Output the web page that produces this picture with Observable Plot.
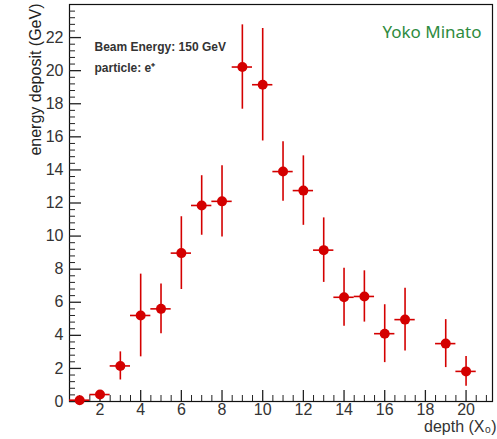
<!DOCTYPE html>
<html>
<head>
<meta charset="utf-8">
<script src="https://cdn.jsdelivr.net/npm/d3@7"></script>
<script src="https://cdn.jsdelivr.net/npm/@observablehq/plot@0.6"></script>
<style>
  html, body { margin: 0; padding: 0; background: white; }
</style>
</head>
<body>
<div id="chart"></div>
<script>
// Data
const depth = [1, 2, 3, 4, 5, 6, 7, 8, 9, 10, 11, 12, 13, 14, 15, 16, 17, 19, 20];
const energy = [0.08, 0.42, 2.15, 5.2, 5.6, 8.97, 11.85, 12.1, 20.22, 19.15, 13.9, 12.75, 9.15, 6.3, 6.35, 4.1, 4.95, 3.5, 1.82];
const energyErr = [0.1, 0.15, 0.85, 2.5, 1.5, 2.2, 1.8, 2.15, 2.55, 3.4, 1.8, 2.1, 1.95, 1.75, 1.55, 1.75, 1.9, 1.45, 0.9];
const depthHalfWidth = 0.5;

const yMajorTicks = [0, 2, 4, 6, 8, 10, 12, 14, 16, 18, 20, 22];
const xMajorTicks = [2, 4, 6, 8, 10, 12, 14, 16, 18, 20];

const yMinorTicks = d3.range(0, 24, 0.4).map(v => +v.toFixed(1)).filter(v => Math.abs(v / 2 - Math.round(v / 2)) > 1e-6);
const xMinorTicks = d3.range(1, 21.01, 0.5).filter(v => v % 2 !== 0);

const data = depth.map((d, i) => ({depth: d, energy: energy[i], err: energyErr[i]}));

const red = "#d40000";
const tickColor = "#222";
const font = "Liberation Sans, Arial, Helvetica, sans-serif";

const chart = Plot.plot({
  width: 497,
  height: 439,
  marginLeft: 69,
  marginRight: 5,
  marginTop: 4,
  marginBottom: 38,
  style: {fontFamily: font, background: "white", overflow: "visible"},
  x: {domain: [0.5, 21.3]},
  y: {domain: [0, 24]},
  marks: [
    Plot.frame({stroke: "#111", strokeWidth: 1.2}),
    // inward ticks
    Plot.axisY({ticks: yMajorTicks, tickSize: 12, dx: 12, tickFormat: () => "", label: null, stroke: tickColor, strokeWidth: 1.3}),
    Plot.axisY({ticks: yMinorTicks, tickSize: 6, dx: 6, tickFormat: () => "", label: null, stroke: tickColor}),
    Plot.axisX({ticks: xMajorTicks, tickSize: 11, dy: -11, tickFormat: () => "", label: null, stroke: tickColor, strokeWidth: 1.3}),
    Plot.axisX({ticks: xMinorTicks, tickSize: 6, dy: -6, tickFormat: () => "", label: null, stroke: tickColor}),
    // tick labels
    Plot.axisY({ticks: yMajorTicks, tickSize: 0, tickPadding: 6, fontSize: 16, label: null, fill: "#333"}),
    Plot.axisX({ticks: xMajorTicks, tickSize: 0, tickPadding: 2, fontSize: 16, label: null, fill: "#333"}),
    // axis titles
    Plot.text(["energy deposit (GeV)"], {frameAnchor: "top-left", text: d => d, rotate: -90, textAnchor: "end", dx: -40, dy: -1, fontSize: 16, fill: "#222"}),
    Plot.text(["depth (X\u2080)"], {frameAnchor: "bottom-right", text: d => d, textAnchor: "end", dx: 4, dy: 30, fontSize: 16, fill: "#333"}),
    // annotations
    Plot.text(["Beam Energy: 150 GeV"], {frameAnchor: "top-left", text: d => d, textAnchor: "start", dx: 25, dy: 38, fontSize: 12, fontWeight: "bold", fill: "#333"}),
    Plot.text(["particle: e\u207A"], {frameAnchor: "top-left", text: d => d, textAnchor: "start", dx: 25, dy: 59, fontSize: 12, fontWeight: "bold", fill: "#333"}),
    Plot.text(["Yoko Minato"], {frameAnchor: "top-right", text: d => d, textAnchor: "end", dx: -11, dy: 21, fontSize: 17, fill: "#2e8b3e", fontFamily: "Noto Sans, sans-serif"}),
    // error bars
    Plot.ruleX(data, {x: "depth", y1: d => d.energy - d.err, y2: d => d.energy + d.err, stroke: red, strokeWidth: 1.6}),
    Plot.ruleY(data, {y: "energy", x1: d => d.depth - depthHalfWidth, x2: d => d.depth + depthHalfWidth, stroke: red, strokeWidth: 1.6}),
    Plot.dot(data, {x: "depth", y: "energy", r: 5, fill: red, stroke: "none"})
  ]
});

document.getElementById("chart").appendChild(chart);
</script>
</body>
</html>
